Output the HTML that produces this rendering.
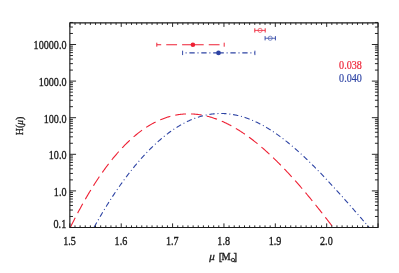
<!DOCTYPE html><html><head><meta charset="utf-8"><style>html,body{margin:0;padding:0;background:#fff}body{width:399px;height:273px;overflow:hidden;position:relative;font-family:"Liberation Serif",serif}</style></head><body><svg width="399" height="273" viewBox="0 0 399 273" style="position:absolute;left:0;top:0;will-change:transform">
<rect width="399" height="273" fill="#fff"/>
<clipPath id="c"><rect x="69.85" y="22.8" width="308.20000000000005" height="205.0"/></clipPath>
<path d="M70.29,227.50 L70.95,226.17 L71.61,224.84 L72.27,223.53 L72.93,222.22 L73.59,220.93 L74.25,219.64 L74.90,218.36 L75.56,217.08 L76.22,215.82 L76.88,214.56 L77.54,213.32 L78.20,212.08 L78.86,210.85 L79.52,209.63 L80.18,208.41 L80.83,207.21 L81.49,206.01 L82.15,204.82 L82.81,203.64 L83.47,202.47 L84.13,201.31 L84.79,200.15 L85.45,199.00 L86.11,197.87 L86.77,196.74 L87.42,195.61 L88.08,194.50 L88.74,193.40 L89.40,192.30 L90.06,191.21 L90.72,190.13 L91.38,189.06 L92.04,187.99 L92.70,186.94 L93.35,185.89 L94.01,184.85 L94.67,183.82 L95.33,182.79 L95.99,181.78 L96.65,180.77 L97.31,179.77 L97.97,178.78 L98.63,177.80 L99.28,176.82 L99.94,175.86 L100.60,174.90 L101.26,173.95 L101.92,173.01 L102.58,172.07 L103.24,171.14 L103.90,170.23 L104.56,169.32 L105.21,168.41 L105.87,167.52 L106.53,166.63 L107.19,165.75 L107.85,164.88 L108.51,164.02 L109.17,163.16 L109.83,162.32 L110.49,161.48 L111.14,160.65 L111.80,159.82 L112.46,159.01 L113.12,158.20 L113.78,157.40 L114.44,156.61 L115.10,155.82 L115.76,155.04 L116.42,154.27 L117.08,153.51 L117.73,152.76 L118.39,152.01 L119.05,151.28 L119.71,150.55 L120.37,149.82 L121.03,149.11 L121.69,148.40 L122.35,147.70 L123.01,147.01 L123.66,146.32 L124.32,145.65 L124.98,144.98 L125.64,144.31 L126.30,143.66 L126.96,143.01 L127.62,142.37 L128.28,141.74 L128.94,141.12 L129.59,140.50 L130.25,139.89 L130.91,139.29 L131.57,138.70 L132.23,138.11 L132.89,137.53 L133.55,136.96 L134.21,136.39 L134.87,135.84 L135.52,135.29 L136.18,134.74 L136.84,134.21 L137.50,133.68 L138.16,133.16 L138.82,132.65 L139.48,132.14 L140.14,131.64 L140.80,131.15 L141.45,130.67 L142.11,130.19 L142.77,129.72 L143.43,129.26 L144.09,128.80 L144.75,128.35 L145.41,127.91 L146.07,127.48 L146.73,127.05 L147.39,126.63 L148.04,126.22 L148.70,125.81 L149.36,125.42 L150.02,125.02 L150.68,124.64 L151.34,124.26 L152.00,123.89 L152.66,123.53 L153.32,123.17 L153.97,122.82 L154.63,122.48 L155.29,122.15 L155.95,121.82 L156.61,121.50 L157.27,121.18 L157.93,120.87 L158.59,120.57 L159.25,120.28 L159.90,119.99 L160.56,119.71 L161.22,119.44 L161.88,119.17 L162.54,118.91 L163.20,118.66 L163.86,118.41 L164.52,118.17 L165.18,117.94 L165.83,117.71 L166.49,117.49 L167.15,117.28 L167.81,117.07 L168.47,116.87 L169.13,116.68 L169.79,116.49 L170.45,116.31 L171.11,116.14 L171.77,115.97 L172.42,115.81 L173.08,115.66 L173.74,115.51 L174.40,115.37 L175.06,115.24 L175.72,115.11 L176.38,114.99 L177.04,114.87 L177.70,114.76 L178.35,114.66 L179.01,114.57 L179.67,114.48 L180.33,114.39 L180.99,114.32 L181.65,114.25 L182.31,114.18 L182.97,114.12 L183.63,114.07 L184.28,114.03 L184.94,113.99 L185.60,113.96 L186.26,113.93 L186.92,113.91 L187.58,113.89 L188.24,113.89 L188.90,113.88 L189.56,113.89 L190.21,113.90 L190.87,113.91 L191.53,113.94 L192.19,113.97 L192.85,114.00 L193.51,114.04 L194.17,114.09 L194.83,114.14 L195.49,114.20 L196.14,114.26 L196.80,114.33 L197.46,114.41 L198.12,114.49 L198.78,114.58 L199.44,114.67 L200.10,114.77 L200.76,114.88 L201.42,114.99 L202.08,115.10 L202.73,115.23 L203.39,115.35 L204.05,115.49 L204.71,115.63 L205.37,115.77 L206.03,115.93 L206.69,116.08 L207.35,116.25 L208.01,116.41 L208.66,116.59 L209.32,116.77 L209.98,116.95 L210.64,117.14 L211.30,117.34 L211.96,117.54 L212.62,117.75 L213.28,117.96 L213.94,118.18 L214.59,118.40 L215.25,118.63 L215.91,118.86 L216.57,119.10 L217.23,119.35 L217.89,119.60 L218.55,119.85 L219.21,120.12 L219.87,120.38 L220.52,120.65 L221.18,120.93 L221.84,121.21 L222.50,121.50 L223.16,121.79 L223.82,122.09 L224.48,122.39 L225.14,122.70 L225.80,123.01 L226.45,123.33 L227.11,123.66 L227.77,123.98 L228.43,124.32 L229.09,124.66 L229.75,125.00 L230.41,125.35 L231.07,125.70 L231.73,126.06 L232.39,126.42 L233.04,126.79 L233.70,127.17 L234.36,127.54 L235.02,127.93 L235.68,128.31 L236.34,128.71 L237.00,129.10 L237.66,129.51 L238.32,129.91 L238.97,130.33 L239.63,130.74 L240.29,131.16 L240.95,131.59 L241.61,132.02 L242.27,132.45 L242.93,132.89 L243.59,133.34 L244.25,133.79 L244.90,134.24 L245.56,134.70 L246.22,135.16 L246.88,135.63 L247.54,136.10 L248.20,136.57 L248.86,137.06 L249.52,137.54 L250.18,138.03 L250.83,138.52 L251.49,139.02 L252.15,139.52 L252.81,140.03 L253.47,140.54 L254.13,141.06 L254.79,141.58 L255.45,142.10 L256.11,142.63 L256.77,143.16 L257.42,143.69 L258.08,144.24 L258.74,144.78 L259.40,145.33 L260.06,145.88 L260.72,146.44 L261.38,147.00 L262.04,147.56 L262.70,148.13 L263.35,148.71 L264.01,149.28 L264.67,149.86 L265.33,150.45 L265.99,151.04 L266.65,151.63 L267.31,152.22 L267.97,152.82 L268.63,153.43 L269.28,154.04 L269.94,154.65 L270.60,155.26 L271.26,155.88 L271.92,156.50 L272.58,157.13 L273.24,157.76 L273.90,158.39 L274.56,159.03 L275.21,159.67 L275.87,160.32 L276.53,160.97 L277.19,161.62 L277.85,162.27 L278.51,162.93 L279.17,163.59 L279.83,164.26 L280.49,164.93 L281.14,165.60 L281.80,166.28 L282.46,166.95 L283.12,167.64 L283.78,168.32 L284.44,169.01 L285.10,169.70 L285.76,170.40 L286.42,171.10 L287.08,171.80 L287.73,172.50 L288.39,173.21 L289.05,173.92 L289.71,174.64 L290.37,175.36 L291.03,176.08 L291.69,176.80 L292.35,177.53 L293.01,178.26 L293.66,178.99 L294.32,179.72 L294.98,180.46 L295.64,181.20 L296.30,181.95 L296.96,182.70 L297.62,183.45 L298.28,184.20 L298.94,184.95 L299.59,185.71 L300.25,186.47 L300.91,187.24 L301.57,188.00 L302.23,188.77 L302.89,189.55 L303.55,190.32 L304.21,191.10 L304.87,191.88 L305.52,192.66 L306.18,193.44 L306.84,194.23 L307.50,195.02 L308.16,195.81 L308.82,196.61 L309.48,197.40 L310.14,198.20 L310.80,199.01 L311.45,199.81 L312.11,200.62 L312.77,201.42 L313.43,202.24 L314.09,203.05 L314.75,203.86 L315.41,204.68 L316.07,205.50 L316.73,206.32 L317.39,207.15 L318.04,207.97 L318.70,208.80 L319.36,209.63 L320.02,210.46 L320.68,211.30 L321.34,212.14 L322.00,212.97 L322.66,213.81 L323.32,214.66 L323.97,215.50 L324.63,216.35 L325.29,217.19 L325.95,218.04 L326.61,218.89 L327.27,219.75 L327.93,220.60 L328.59,221.46 L329.25,222.32 L329.90,223.18 L330.56,224.04 L331.22,224.90 L331.88,225.77 L332.54,226.63 L333.20,227.50" fill="none" stroke="#ee2034" stroke-width="1.1" stroke-dasharray="10.75 5.1" stroke-dashoffset="-0.3" clip-path="url(#c)"/>
<path d="M93.97,227.50 L94.66,226.25 L95.35,225.01 L96.04,223.78 L96.73,222.55 L97.42,221.33 L98.11,220.12 L98.80,218.92 L99.49,217.72 L100.18,216.54 L100.87,215.36 L101.56,214.18 L102.25,213.02 L102.93,211.86 L103.62,210.71 L104.31,209.57 L105.00,208.43 L105.69,207.31 L106.38,206.19 L107.07,205.07 L107.76,203.97 L108.45,202.87 L109.14,201.78 L109.83,200.69 L110.52,199.61 L111.21,198.54 L111.90,197.48 L112.59,196.42 L113.28,195.37 L113.97,194.33 L114.66,193.29 L115.35,192.27 L116.04,191.24 L116.73,190.23 L117.42,189.22 L118.11,188.22 L118.80,187.23 L119.49,186.24 L120.18,185.26 L120.87,184.28 L121.56,183.32 L122.25,182.36 L122.94,181.40 L123.63,180.46 L124.32,179.52 L125.01,178.58 L125.70,177.65 L126.39,176.73 L127.08,175.82 L127.77,174.91 L128.46,174.01 L129.15,173.12 L129.84,172.23 L130.53,171.35 L131.22,170.48 L131.91,169.61 L132.59,168.75 L133.28,167.90 L133.97,167.05 L134.66,166.21 L135.35,165.38 L136.04,164.55 L136.73,163.73 L137.42,162.91 L138.11,162.11 L138.80,161.30 L139.49,160.51 L140.18,159.72 L140.87,158.94 L141.56,158.16 L142.25,157.40 L142.94,156.63 L143.63,155.88 L144.32,155.13 L145.01,154.39 L145.70,153.65 L146.39,152.92 L147.08,152.20 L147.77,151.48 L148.46,150.77 L149.15,150.07 L149.84,149.37 L150.53,148.68 L151.22,148.00 L151.91,147.32 L152.60,146.65 L153.29,145.99 L153.98,145.33 L154.67,144.68 L155.36,144.04 L156.05,143.40 L156.74,142.77 L157.43,142.15 L158.12,141.53 L158.81,140.92 L159.50,140.31 L160.19,139.72 L160.88,139.13 L161.57,138.54 L162.26,137.96 L162.94,137.39 L163.63,136.83 L164.32,136.27 L165.01,135.72 L165.70,135.17 L166.39,134.64 L167.08,134.10 L167.77,133.58 L168.46,133.06 L169.15,132.55 L169.84,132.05 L170.53,131.55 L171.22,131.06 L171.91,130.57 L172.60,130.09 L173.29,129.62 L173.98,129.16 L174.67,128.70 L175.36,128.25 L176.05,127.81 L176.74,127.37 L177.43,126.94 L178.12,126.51 L178.81,126.10 L179.50,125.69 L180.19,125.28 L180.88,124.89 L181.57,124.49 L182.26,124.11 L182.95,123.73 L183.64,123.36 L184.33,123.00 L185.02,122.65 L185.71,122.30 L186.40,121.95 L187.09,121.62 L187.78,121.29 L188.47,120.97 L189.16,120.65 L189.85,120.34 L190.54,120.04 L191.23,119.74 L191.92,119.46 L192.61,119.18 L193.29,118.90 L193.98,118.63 L194.67,118.37 L195.36,118.12 L196.05,117.87 L196.74,117.63 L197.43,117.40 L198.12,117.17 L198.81,116.95 L199.50,116.74 L200.19,116.53 L200.88,116.33 L201.57,116.14 L202.26,115.95 L202.95,115.77 L203.64,115.60 L204.33,115.44 L205.02,115.28 L205.71,115.12 L206.40,114.98 L207.09,114.84 L207.78,114.71 L208.47,114.59 L209.16,114.47 L209.85,114.36 L210.54,114.25 L211.23,114.16 L211.92,114.07 L212.61,113.98 L213.30,113.91 L213.99,113.84 L214.68,113.77 L215.37,113.72 L216.06,113.67 L216.75,113.62 L217.44,113.59 L218.13,113.56 L218.82,113.53 L219.51,113.52 L220.20,113.51 L220.89,113.51 L221.58,113.51 L222.27,113.52 L222.95,113.54 L223.64,113.56 L224.33,113.59 L225.02,113.63 L225.71,113.67 L226.40,113.72 L227.09,113.78 L227.78,113.84 L228.47,113.92 L229.16,113.99 L229.85,114.08 L230.54,114.17 L231.23,114.26 L231.92,114.37 L232.61,114.48 L233.30,114.59 L233.99,114.71 L234.68,114.84 L235.37,114.98 L236.06,115.12 L236.75,115.27 L237.44,115.42 L238.13,115.58 L238.82,115.75 L239.51,115.93 L240.20,116.11 L240.89,116.29 L241.58,116.49 L242.27,116.69 L242.96,116.89 L243.65,117.10 L244.34,117.32 L245.03,117.54 L245.72,117.77 L246.41,118.01 L247.10,118.25 L247.79,118.50 L248.48,118.76 L249.17,119.02 L249.86,119.28 L250.55,119.56 L251.24,119.84 L251.93,120.12 L252.62,120.41 L253.30,120.71 L253.99,121.01 L254.68,121.32 L255.37,121.63 L256.06,121.95 L256.75,122.28 L257.44,122.61 L258.13,122.95 L258.82,123.29 L259.51,123.64 L260.20,124.00 L260.89,124.36 L261.58,124.72 L262.27,125.09 L262.96,125.47 L263.65,125.85 L264.34,126.24 L265.03,126.64 L265.72,127.04 L266.41,127.44 L267.10,127.85 L267.79,128.26 L268.48,128.69 L269.17,129.11 L269.86,129.54 L270.55,129.98 L271.24,130.42 L271.93,130.87 L272.62,131.32 L273.31,131.78 L274.00,132.24 L274.69,132.70 L275.38,133.18 L276.07,133.65 L276.76,134.13 L277.45,134.62 L278.14,135.11 L278.83,135.61 L279.52,136.11 L280.21,136.62 L280.90,137.13 L281.59,137.64 L282.28,138.16 L282.96,138.69 L283.65,139.22 L284.34,139.75 L285.03,140.29 L285.72,140.83 L286.41,141.38 L287.10,141.93 L287.79,142.48 L288.48,143.04 L289.17,143.61 L289.86,144.18 L290.55,144.75 L291.24,145.33 L291.93,145.91 L292.62,146.49 L293.31,147.08 L294.00,147.67 L294.69,148.27 L295.38,148.87 L296.07,149.48 L296.76,150.09 L297.45,150.70 L298.14,151.31 L298.83,151.93 L299.52,152.56 L300.21,153.19 L300.90,153.82 L301.59,154.45 L302.28,155.09 L302.97,155.73 L303.66,156.38 L304.35,157.02 L305.04,157.67 L305.73,158.33 L306.42,158.99 L307.11,159.65 L307.80,160.31 L308.49,160.98 L309.18,161.65 L309.87,162.33 L310.56,163.00 L311.25,163.68 L311.94,164.37 L312.63,165.05 L313.31,165.74 L314.00,166.43 L314.69,167.12 L315.38,167.82 L316.07,168.52 L316.76,169.22 L317.45,169.93 L318.14,170.64 L318.83,171.35 L319.52,172.06 L320.21,172.77 L320.90,173.49 L321.59,174.21 L322.28,174.93 L322.97,175.66 L323.66,176.38 L324.35,177.11 L325.04,177.84 L325.73,178.57 L326.42,179.31 L327.11,180.05 L327.80,180.79 L328.49,181.53 L329.18,182.27 L329.87,183.01 L330.56,183.76 L331.25,184.51 L331.94,185.26 L332.63,186.01 L333.32,186.77 L334.01,187.52 L334.70,188.28 L335.39,189.04 L336.08,189.80 L336.77,190.56 L337.46,191.32 L338.15,192.09 L338.84,192.85 L339.53,193.62 L340.22,194.39 L340.91,195.16 L341.60,195.93 L342.29,196.70 L342.98,197.48 L343.66,198.25 L344.35,199.03 L345.04,199.80 L345.73,200.58 L346.42,201.36 L347.11,202.14 L347.80,202.92 L348.49,203.71 L349.18,204.49 L349.87,205.27 L350.56,206.06 L351.25,206.84 L351.94,207.63 L352.63,208.42 L353.32,209.21 L354.01,210.00 L354.70,210.79 L355.39,211.58 L356.08,212.37 L356.77,213.16 L357.46,213.95 L358.15,214.75 L358.84,215.54 L359.53,216.33 L360.22,217.13 L360.91,217.92 L361.60,218.72 L362.29,219.51 L362.98,220.31 L363.67,221.11 L364.36,221.91 L365.05,222.70 L365.74,223.50 L366.43,224.30 L367.12,225.10 L367.81,225.90 L368.50,226.70 L369.19,227.50" fill="none" stroke="#2e44a4" stroke-width="1.1" stroke-dasharray="5.3 2.78 1 2.79" stroke-dashoffset="-0.4" clip-path="url(#c)"/>
<rect x="69.85" y="22.8" width="308.20000000000005" height="204.7" fill="none" stroke="#1c1c1c" stroke-width="1.15" stroke-linejoin="round"/>
<path d="M69.85,227.5v-4.1M69.85,22.8v4.1M74.99,227.5v-2.1M74.99,22.8v2.1M80.12,227.5v-2.1M80.12,22.8v2.1M85.26,227.5v-2.1M85.26,22.8v2.1M90.40,227.5v-2.1M90.40,22.8v2.1M95.53,227.5v-2.1M95.53,22.8v2.1M100.67,227.5v-2.1M100.67,22.8v2.1M105.81,227.5v-2.1M105.81,22.8v2.1M110.94,227.5v-2.1M110.94,22.8v2.1M116.08,227.5v-2.1M116.08,22.8v2.1M121.22,227.5v-4.1M121.22,22.8v4.1M126.35,227.5v-2.1M126.35,22.8v2.1M131.49,227.5v-2.1M131.49,22.8v2.1M136.63,227.5v-2.1M136.63,22.8v2.1M141.76,227.5v-2.1M141.76,22.8v2.1M146.90,227.5v-2.1M146.90,22.8v2.1M152.04,227.5v-2.1M152.04,22.8v2.1M157.17,227.5v-2.1M157.17,22.8v2.1M162.31,227.5v-2.1M162.31,22.8v2.1M167.45,227.5v-2.1M167.45,22.8v2.1M172.58,227.5v-4.1M172.58,22.8v4.1M177.72,227.5v-2.1M177.72,22.8v2.1M182.86,227.5v-2.1M182.86,22.8v2.1M187.99,227.5v-2.1M187.99,22.8v2.1M193.13,227.5v-2.1M193.13,22.8v2.1M198.27,227.5v-2.1M198.27,22.8v2.1M203.40,227.5v-2.1M203.40,22.8v2.1M208.54,227.5v-2.1M208.54,22.8v2.1M213.68,227.5v-2.1M213.68,22.8v2.1M218.81,227.5v-2.1M218.81,22.8v2.1M223.95,227.5v-4.1M223.95,22.8v4.1M229.09,227.5v-2.1M229.09,22.8v2.1M234.22,227.5v-2.1M234.22,22.8v2.1M239.36,227.5v-2.1M239.36,22.8v2.1M244.50,227.5v-2.1M244.50,22.8v2.1M249.63,227.5v-2.1M249.63,22.8v2.1M254.77,227.5v-2.1M254.77,22.8v2.1M259.91,227.5v-2.1M259.91,22.8v2.1M265.04,227.5v-2.1M265.04,22.8v2.1M270.18,227.5v-2.1M270.18,22.8v2.1M275.32,227.5v-4.1M275.32,22.8v4.1M280.45,227.5v-2.1M280.45,22.8v2.1M285.59,227.5v-2.1M285.59,22.8v2.1M290.73,227.5v-2.1M290.73,22.8v2.1M295.86,227.5v-2.1M295.86,22.8v2.1M301.00,227.5v-2.1M301.00,22.8v2.1M306.14,227.5v-2.1M306.14,22.8v2.1M311.27,227.5v-2.1M311.27,22.8v2.1M316.41,227.5v-2.1M316.41,22.8v2.1M321.55,227.5v-2.1M321.55,22.8v2.1M326.68,227.5v-4.1M326.68,22.8v4.1M331.82,227.5v-2.1M331.82,22.8v2.1M336.96,227.5v-2.1M336.96,22.8v2.1M342.09,227.5v-2.1M342.09,22.8v2.1M347.23,227.5v-2.1M347.23,22.8v2.1M352.37,227.5v-2.1M352.37,22.8v2.1M357.50,227.5v-2.1M357.50,22.8v2.1M362.64,227.5v-2.1M362.64,22.8v2.1M367.78,227.5v-2.1M367.78,22.8v2.1M372.91,227.5v-2.1M372.91,22.8v2.1M378.05,227.5v-4.1M378.05,22.8v4.1M69.85,227.50h6.2M378.05,227.50h-6.2M69.85,216.48h3.1M378.05,216.48h-3.1M69.85,210.04h3.1M378.05,210.04h-3.1M69.85,205.46h3.1M378.05,205.46h-3.1M69.85,201.92h3.1M378.05,201.92h-3.1M69.85,199.02h3.1M378.05,199.02h-3.1M69.85,196.57h3.1M378.05,196.57h-3.1M69.85,194.45h3.1M378.05,194.45h-3.1M69.85,192.57h3.1M378.05,192.57h-3.1M69.85,190.90h6.2M378.05,190.90h-6.2M69.85,179.88h3.1M378.05,179.88h-3.1M69.85,173.44h3.1M378.05,173.44h-3.1M69.85,168.86h3.1M378.05,168.86h-3.1M69.85,165.32h3.1M378.05,165.32h-3.1M69.85,162.42h3.1M378.05,162.42h-3.1M69.85,159.97h3.1M378.05,159.97h-3.1M69.85,157.85h3.1M378.05,157.85h-3.1M69.85,155.97h3.1M378.05,155.97h-3.1M69.85,154.30h6.2M378.05,154.30h-6.2M69.85,143.28h3.1M378.05,143.28h-3.1M69.85,136.84h3.1M378.05,136.84h-3.1M69.85,132.26h3.1M378.05,132.26h-3.1M69.85,128.72h3.1M378.05,128.72h-3.1M69.85,125.82h3.1M378.05,125.82h-3.1M69.85,123.37h3.1M378.05,123.37h-3.1M69.85,121.25h3.1M378.05,121.25h-3.1M69.85,119.37h3.1M378.05,119.37h-3.1M69.85,117.70h6.2M378.05,117.70h-6.2M69.85,106.68h3.1M378.05,106.68h-3.1M69.85,100.24h3.1M378.05,100.24h-3.1M69.85,95.66h3.1M378.05,95.66h-3.1M69.85,92.12h3.1M378.05,92.12h-3.1M69.85,89.22h3.1M378.05,89.22h-3.1M69.85,86.77h3.1M378.05,86.77h-3.1M69.85,84.65h3.1M378.05,84.65h-3.1M69.85,82.77h3.1M378.05,82.77h-3.1M69.85,81.10h6.2M378.05,81.10h-6.2M69.85,70.08h3.1M378.05,70.08h-3.1M69.85,63.64h3.1M378.05,63.64h-3.1M69.85,59.06h3.1M378.05,59.06h-3.1M69.85,55.52h3.1M378.05,55.52h-3.1M69.85,52.62h3.1M378.05,52.62h-3.1M69.85,50.17h3.1M378.05,50.17h-3.1M69.85,48.05h3.1M378.05,48.05h-3.1M69.85,46.17h3.1M378.05,46.17h-3.1M69.85,44.50h6.2M378.05,44.50h-6.2M69.85,33.48h3.1M378.05,33.48h-3.1M69.85,27.04h3.1M378.05,27.04h-3.1M69.85,22.46h3.1M378.05,22.46h-3.1" fill="none" stroke="#1c1c1c" stroke-width="0.95"/>
<path d="M192.9,44.7H156.8M192.9,44.7H224.2" stroke="#ee2034" stroke-width="1.1" fill="none" stroke-dasharray="10.8 5.05"/><path d="M156.8,42.7v4.0M224.2,42.7v4.0" stroke="#ee2034" stroke-width="0.95" fill="none"/><circle cx="192.9" cy="44.7" r="2.3" fill="#ee2034"/>
<path d="M218.5,52.9H182.6M218.5,52.9H254.9" stroke="#2e44a4" stroke-width="1.1" fill="none" stroke-dasharray="5.3 2.8 1 2.8"/><path d="M182.6,50.699999999999996v4.4M254.9,50.699999999999996v4.4" stroke="#2e44a4" stroke-width="0.95" fill="none"/><circle cx="218.5" cy="52.9" r="2.35" fill="#2e44a4"/>
<path d="M254.8,30.4H265.2" stroke="#ee2034" stroke-width="0.8" fill="none"/><path d="M254.8,28.299999999999997v4.2M265.2,28.299999999999997v4.2" stroke="#ee2034" stroke-width="0.95" fill="none"/><circle cx="260.05" cy="30.4" r="2.1" fill="none" stroke="#ee2034" stroke-width="0.6"/>
<path d="M265.1,38.25H275.4" stroke="#2e44a4" stroke-width="0.8" fill="none"/><path d="M265.1,36.15v4.2M275.4,36.15v4.2" stroke="#2e44a4" stroke-width="0.95" fill="none"/><circle cx="270.2" cy="38.25" r="2.1" fill="none" stroke="#2e44a4" stroke-width="0.6"/>
<text transform="translate(66.50,49.40) scale(0.83,1)" text-anchor="end" font-family="Liberation Serif, serif" font-size="12.2" fill="#1a1a1a" stroke="#1a1a1a" stroke-width="0.35">10000.0</text>
<text transform="translate(66.50,86.00) scale(0.83,1)" text-anchor="end" font-family="Liberation Serif, serif" font-size="12.2" fill="#1a1a1a" stroke="#1a1a1a" stroke-width="0.35">1000.0</text>
<text transform="translate(66.50,122.60) scale(0.83,1)" text-anchor="end" font-family="Liberation Serif, serif" font-size="12.2" fill="#1a1a1a" stroke="#1a1a1a" stroke-width="0.35">100.0</text>
<text transform="translate(66.50,159.20) scale(0.83,1)" text-anchor="end" font-family="Liberation Serif, serif" font-size="12.2" fill="#1a1a1a" stroke="#1a1a1a" stroke-width="0.35">10.0</text>
<text transform="translate(66.50,195.80) scale(0.83,1)" text-anchor="end" font-family="Liberation Serif, serif" font-size="12.2" fill="#1a1a1a" stroke="#1a1a1a" stroke-width="0.35">1.0</text>
<text transform="translate(66.20,227.90) scale(0.83,1)" text-anchor="end" font-family="Liberation Serif, serif" font-size="12.2" fill="#1a1a1a" stroke="#1a1a1a" stroke-width="0.35">0.1</text>
<text transform="translate(69.55,244.70) scale(0.83,1)" text-anchor="middle" font-family="Liberation Serif, serif" font-size="12.2" fill="#1a1a1a" stroke="#1a1a1a" stroke-width="0.35">1.5</text>
<text transform="translate(120.92,244.70) scale(0.83,1)" text-anchor="middle" font-family="Liberation Serif, serif" font-size="12.2" fill="#1a1a1a" stroke="#1a1a1a" stroke-width="0.35">1.6</text>
<text transform="translate(172.28,244.70) scale(0.83,1)" text-anchor="middle" font-family="Liberation Serif, serif" font-size="12.2" fill="#1a1a1a" stroke="#1a1a1a" stroke-width="0.35">1.7</text>
<text transform="translate(223.65,244.70) scale(0.83,1)" text-anchor="middle" font-family="Liberation Serif, serif" font-size="12.2" fill="#1a1a1a" stroke="#1a1a1a" stroke-width="0.35">1.8</text>
<text transform="translate(275.02,244.70) scale(0.83,1)" text-anchor="middle" font-family="Liberation Serif, serif" font-size="12.2" fill="#1a1a1a" stroke="#1a1a1a" stroke-width="0.35">1.9</text>
<text transform="translate(326.38,244.70) scale(0.83,1)" text-anchor="middle" font-family="Liberation Serif, serif" font-size="12.2" fill="#1a1a1a" stroke="#1a1a1a" stroke-width="0.35">2.0</text>
<text transform="translate(361.90,68.70) scale(0.83,1)" text-anchor="end" font-family="Liberation Serif, serif" font-size="12.2" fill="#ee2034" stroke="#ee2034" stroke-width="0.2">0.038</text>
<text transform="translate(361.90,82.30) scale(0.83,1)" text-anchor="end" font-family="Liberation Serif, serif" font-size="12.2" fill="#2e44a4" stroke="#2e44a4" stroke-width="0.2">0.040</text>
<text transform="translate(23.30,126.00) rotate(-90) scale(0.97,1)" text-anchor="middle" font-family="Liberation Serif, serif" font-size="10.4" fill="#1a1a1a" stroke="#1a1a1a" stroke-width="0.3">H(<tspan font-style="italic" font-size="9.6">&#956;</tspan>)</text>
<text font-style="italic" transform="translate(209.20,259.70) scale(1.15,1)" text-anchor="start" font-family="Liberation Serif, serif" font-size="9.6" fill="#1a1a1a" stroke="#1a1a1a" stroke-width="0.3">&#956;</text>
<text transform="translate(218.80,259.60) scale(0.95,1)" text-anchor="start" font-family="Liberation Serif, serif" font-size="11.4" fill="#1a1a1a" stroke="#1a1a1a" stroke-width="0.35">[</text>
<text transform="translate(221.60,259.70) scale(0.99,1)" text-anchor="start" font-family="Liberation Serif, serif" font-size="10.4" fill="#1a1a1a" stroke="#1a1a1a" stroke-width="0.35">M</text>
<circle cx="232.9" cy="260.0" r="1.7" fill="none" stroke="#1a1a1a" stroke-width="0.9"/><circle cx="232.9" cy="260.0" r="0.45" fill="#1a1a1a"/>
<text transform="translate(233.50,259.60) scale(0.95,1)" text-anchor="start" font-family="Liberation Serif, serif" font-size="11.4" fill="#1a1a1a" stroke="#1a1a1a" stroke-width="0.35">]</text>
</svg></body></html>
